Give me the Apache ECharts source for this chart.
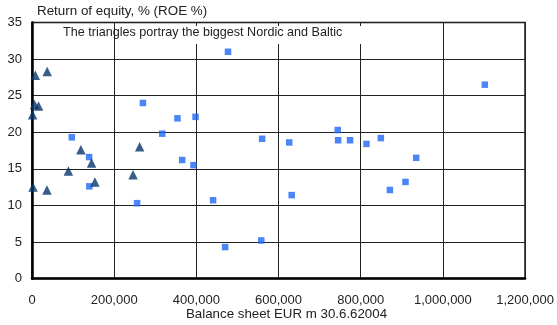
<!DOCTYPE html>
<html><head><meta charset="utf-8">
<script src="https://cdn.jsdelivr.net/npm/echarts@6/dist/echarts.min.js"></script>
<style>html,body{margin:0;padding:0;background:#fff}#c{width:557px;height:325px}</style>
</head><body><div id="c"></div>
<script>
// Balance sheet (EUR m) and ROE (%) — biggest Nordic and Baltic banks (triangles)
const nordicBalance = [8000, 37000, 6300, 16000, 1500, 119000, 262000, 88600, 145000, 153000, 246000, 2400, 36300];
const nordicROE     = [27.8, 28.3, 23.8, 23.6, 22.4, 17.6, 18.0, 14.7, 15.8, 13.2, 14.2, 12.5, 12.1];
// Other banks (squares)
const otherBalance = [477000, 270000, 96900, 317000, 354000, 398000, 560000, 139000, 365500, 393000, 139500, 255700, 440700, 470000, 558000, 1102000, 744000, 745000, 774000, 626000, 814000, 849000, 935000, 632000, 871000, 909000];
const otherROE     = [31.0, 24.0, 19.3, 19.8, 21.9, 22.1, 19.1, 16.6, 16.2, 15.5, 12.6, 10.3, 10.7, 4.3, 5.2, 26.5, 20.3, 18.9, 18.9, 18.6, 18.4, 19.2, 16.5, 11.4, 12.1, 13.2];
const yTitle = 'Return of equity, % (ROE %)';
const xTitle = 'Balance sheet EUR m 30.6.62004';
const note = 'The triangles portray the biggest Nordic and Baltic';

const pair = (xs, ys) => xs.map((v, i) => [v, ys[i]]);
const chart = echarts.init(document.getElementById('c'));
const font = 'Liberation Sans, Arial, sans-serif';
chart.setOption({
  animation: false,
  textStyle: {fontFamily: font},
  grid: {left: 32, right: 30, top: 22.5, bottom: 46.5, show: true, borderColor: '#000', borderWidth: 1.5, backgroundColor: '#fff'},
  xAxis: {
    type: 'value', min: 0, max: 1200000, interval: 200000,
    axisLine: {show: true, onZero: false, lineStyle: {color: '#000', width: 2.5}},
    axisTick: {show: false},
    splitLine: {show: true, lineStyle: {color: '#222', width: 1}},
    axisLabel: {color: '#222', fontSize: 13, fontFamily: font, margin: 15,
      formatter: v => v.toLocaleString('en-US')}
  },
  yAxis: {
    type: 'value', min: 0, max: 35, interval: 5,
    axisLine: {show: true, onZero: false, lineStyle: {color: '#000', width: 2.5}},
    axisTick: {show: false},
    splitLine: {show: true, lineStyle: {color: '#222', width: 1}},
    axisLabel: {color: '#222', fontSize: 13, fontFamily: font, margin: 10}
  },
  graphic: [
    {type: 'rect', left: 116, top: 26, shape: {width: 250, height: 18}, style: {fill: '#fff'}, z: 5},
    {type: 'text', left: 63, top: 26.5, z: 6, style: {text: note, fill: '#222', font: '12.6px ' + font}},
    {type: 'text', left: 37, top: 5, z: 6, style: {text: yTitle, fill: '#222', font: '13.4px ' + font}},
    {type: 'text', left: 186, top: 308, z: 6, style: {text: xTitle, fill: '#222', font: '13.3px ' + font}}
  ],
  series: [
    {type: 'scatter', data: pair(otherBalance, otherROE), symbol: 'rect', symbolSize: 6.5,
      itemStyle: {color: '#1f66f2'}, z: 3},
    {type: 'scatter', data: pair(nordicBalance, nordicROE), symbol: 'triangle', symbolSize: 9.5,
      itemStyle: {color: '#06356b'}, z: 4}
  ]
});
</script></body></html>
